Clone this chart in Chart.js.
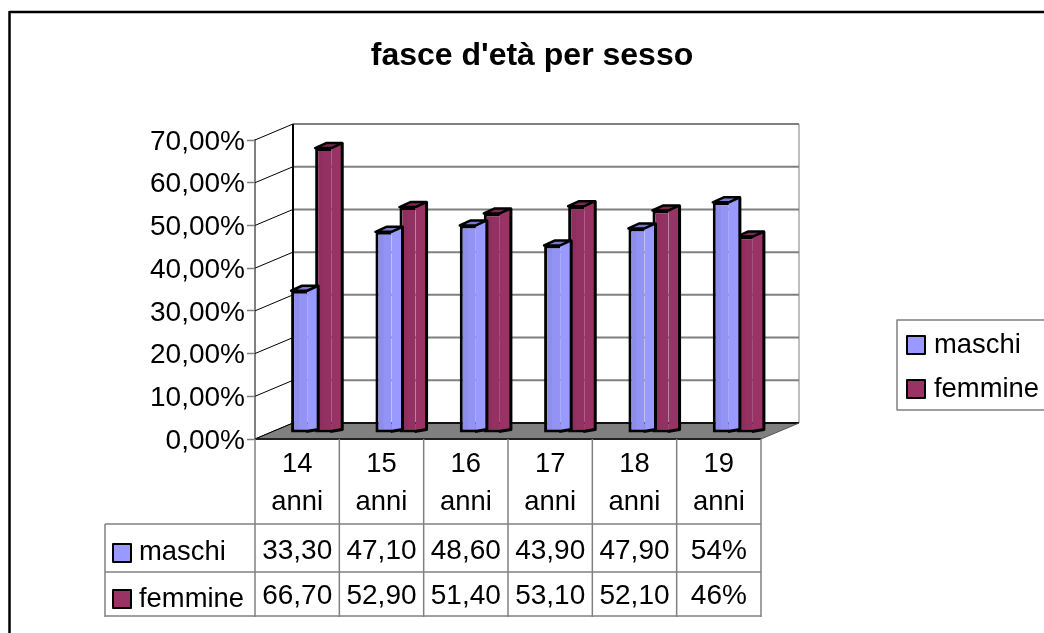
<!DOCTYPE html>
<html>
<head>
<meta charset="utf-8">
<title>fasce d'età per sesso</title>
<style>
	html, body { margin: 0; padding: 0; background: #fff; }
	#wrap { width: 1044px; height: 633px; }
</style>
<script src="https://cdn.jsdelivr.net/npm/chart.js@4/dist/chart.umd.min.js"></script>
</head>
<body>
<div id="wrap"><canvas id="chart" width="1044" height="633"></canvas></div>
<script>
var categories = [ ['14', 'anni'], ['15', 'anni'], ['16', 'anni'], ['17', 'anni'], ['18', 'anni'], ['19', 'anni'] ];
var maschi  = [ 33.3, 47.1, 48.6, 43.9, 47.9, 54 ];
var femmine = [ 66.7, 52.9, 51.4, 53.1, 52.1, 46 ];
var maschiTable  = [ '33,30', '47,10', '48,60', '43,90', '47,90', '54%' ];
var femmineTable = [ '66,70', '52,90', '51,40', '53,10', '52,10', '46%' ];
var title = "fasce d'età per sesso";

var FONT = '"Liberation Sans", Arial, sans-serif';
var NUM_SIZE = 28;
var WORD_SIZE = 27.4;
var GRID = '#808080';

// depth of the fake 3D box, and how far the bars sit inside it
var DEPTH_X = 38, DEPTH_Y = 16;
var BAR_X = 14, BAR_Y = 6;
var SIDE_X = 11, SIDE_Y = 5;

var faces = [
	{ side: '#9999ff', top: '#7a7acc' },
	{ side: '#993366', top: '#7a2952' }
];

function line( ctx, x1, y1, x2, y2, color, width ) {
	ctx.strokeStyle = color;
	ctx.lineWidth = width;
	ctx.beginPath();
	ctx.moveTo( x1, y1 );
	ctx.lineTo( x2, y2 );
	ctx.stroke();
}

function poly( ctx, pts, fill, stroke, width ) {
	ctx.beginPath();
	ctx.moveTo( pts[0][0], pts[0][1] );
	for ( var i = 1; i < pts.length; i++ ) {
		ctx.lineTo( pts[i][0], pts[i][1] );
	}
	ctx.closePath();
	ctx.fillStyle = fill;
	ctx.fill();
	if ( stroke ) {
		ctx.strokeStyle = stroke;
		ctx.lineWidth = width;
		ctx.lineJoin = 'round';
		ctx.stroke();
	}
}

// walls, floor and gridlines of the 3D box, built from the y scale
var boxPlugin = {
	id: 'box',
	beforeDatasetsDraw: function ( chart ) {
		var ctx = chart.ctx, a = chart.chartArea, y = chart.scales.y;
		ctx.save();
		y.ticks.forEach( function ( t ) {
			var py = y.getPixelForValue( t.value );
			if ( t.value > 0 ) {
				line( ctx, a.left + DEPTH_X, py - DEPTH_Y, a.right + DEPTH_X, py - DEPTH_Y, GRID, 2 );
			}
			line( ctx, a.left, py, a.left + DEPTH_X, py - DEPTH_Y, '#000', 1 );
		} );
		line( ctx, a.left + DEPTH_X, a.top - DEPTH_Y, a.left + DEPTH_X, a.bottom - DEPTH_Y, '#000', 2 );
		line( ctx, a.right + DEPTH_X, a.top - DEPTH_Y, a.right + DEPTH_X, a.bottom - DEPTH_Y, GRID, 1 );
		poly( ctx, [
			[ a.left, a.bottom ],
			[ a.left + DEPTH_X, a.bottom - DEPTH_Y ],
			[ a.right + DEPTH_X, a.bottom - DEPTH_Y ],
			[ a.right, a.bottom ]
		], GRID );
		line( ctx, a.left + DEPTH_X, a.bottom - DEPTH_Y, a.right + DEPTH_X, a.bottom - DEPTH_Y, '#111', 2 );
		line( ctx, a.left, a.bottom, a.left + DEPTH_X, a.bottom - DEPTH_Y, '#000', 1 );
		line( ctx, a.right, a.bottom, a.right + DEPTH_X, a.bottom - DEPTH_Y, '#555', 1 );
		line( ctx, a.left, a.bottom, a.right, a.bottom, '#222', 2 );
		ctx.restore();
	},
	// side and top of each bar go first, the library then paints the front on top
	beforeDatasetDraw: function ( chart, args ) {
		var ctx = chart.ctx, f = faces[ args.index ];
		ctx.save();
		ctx.translate( BAR_X, -BAR_Y );
		args.meta.data.forEach( function ( bar ) {
			var p = bar.getProps( [ 'x', 'y', 'base', 'width' ], true );
			var l = p.x - p.width / 2, r = p.x + p.width / 2;
			var farX = r + SIDE_X, foot = p.base - 3;

			poly( ctx, [ [ r, p.y ], [ farX, p.y - SIDE_Y ], [ farX, foot ], [ r, p.base ] ], f.side );
			ctx.strokeStyle = '#000';
			ctx.lineWidth = 3;
			ctx.lineJoin = 'round';
			ctx.beginPath();
			ctx.moveTo( farX, p.y - SIDE_Y );
			ctx.lineTo( farX, foot );
			ctx.lineTo( r - 1, p.base - 1 );
			ctx.stroke();
			poly( ctx, [ [ l, p.y ], [ l + SIDE_X, p.y - SIDE_Y ], [ farX, p.y - SIDE_Y ], [ r, p.y ] ], f.top, '#000', 2.5 );
		} );
	},
	afterDatasetDraw: function ( chart, args ) {
		var ctx = chart.ctx;
		// the darker band down the left half of each front face
		args.meta.data.forEach( function ( bar ) {
			var p = bar.getProps( [ 'x', 'y', 'base', 'width' ], true );
			ctx.fillStyle = 'rgba(0,0,0,0.04)';
			ctx.fillRect( p.x - p.width / 2 + 3, p.y + 3, p.width / 2 - 3, p.base - p.y - 6 );
		} );
		ctx.restore();
	},
	afterDraw: function ( chart ) {
		var ctx = chart.ctx, a = chart.chartArea, x = chart.scales.x;
		var step = ( a.right - a.left ) / categories.length;
		ctx.save();

		// picture frame, runs off the right and bottom of the image
		line( ctx, 9.5, 12, 1044, 12, '#000', 2.5 );
		line( ctx, 9.5, 11, 9.5, 633, '#000', 2.5 );

		// data table grid
		var rowA = 524, rowB = 572, rowC = 616, tableLeft = 105;
		for ( var i = 0; i <= categories.length; i++ ) {
			line( ctx, a.left + step * i, a.bottom, a.left + step * i, rowC + 1, GRID, 1.5 );
		}
		line( ctx, tableLeft, rowA, a.right, rowA, GRID, 1.5 );
		line( ctx, tableLeft, rowB, a.right, rowB, GRID, 1.5 );
		line( ctx, tableLeft, rowC, a.right, rowC, GRID, 1.5 );
		line( ctx, tableLeft, rowA, tableLeft, rowC + 1, GRID, 1.5 );

		ctx.font = NUM_SIZE + 'px ' + FONT;
		ctx.fillStyle = '#000';
		ctx.textBaseline = 'alphabetic';
		ctx.textAlign = 'center';
		maschiTable.forEach( function ( v, i ) {
			ctx.fillText( v, x.getPixelForValue( i ), 559 );
			ctx.fillText( femmineTable[i], x.getPixelForValue( i ), 604 );
		} );

		// row keys and legend share the same swatches
		var sets = chart.data.datasets;
		ctx.font = WORD_SIZE + 'px ' + FONT;
		function key( sx, sy, tx, ty, i ) {
			poly( ctx, [ [ sx, sy ], [ sx + 18, sy ], [ sx + 18, sy + 18 ], [ sx, sy + 18 ] ], faces[i].side, '#000', 2 );
			ctx.textAlign = 'left';
			ctx.fillStyle = '#000';
			ctx.fillText( sets[i].label, tx, ty );
		}
		key( 113, 544, 139, 560, 0 );
		key( 113, 590, 139, 607, 1 );

		ctx.strokeStyle = GRID;
		ctx.lineWidth = 1.5;
		ctx.strokeRect( 897, 320, 160, 90 );
		key( 907, 336, 934, 353, 0 );
		key( 907, 380, 934, 397, 1 );
		ctx.restore();
	}
};

new Chart( document.getElementById( 'chart' ).getContext( '2d' ), {
	type: 'bar',
	data: {
		labels: categories,
		datasets: [
			{ label: 'maschi',  data: maschi,  backgroundColor: '#9393f5', yAxisID: 'y' },
			{ label: 'femmine', data: femmine, backgroundColor: '#933163', yAxisID: 'y' }
		]
	},
	options: {
		responsive: false,
		animation: false,
		layout: { padding: { left: 20, right: 0, top: 0, bottom: 0 } },
		datasets: {
			bar: {
				categoryPercentage: 0.57,
				barPercentage: 0.67,
				borderWidth: { left: 3, top: 3, bottom: 3, right: 0 },
				borderColor: '#000',
				borderSkipped: false,
				clip: false
			}
		},
		plugins: {
			legend: { display: false },
			tooltip: { enabled: false },
			title: {
				display: true,
				text: title,
				color: '#000',
				font: { family: FONT, size: 32, weight: 'bold', lineHeight: 1.2 },
				padding: { top: 37, bottom: 64.6 }
			}
		},
		scales: {
			x: {
				grid: { display: false },
				border: { display: false },
				ticks: {
					color: '#000',
					font: { family: FONT, size: WORD_SIZE, lineHeight: 1.38 },
					padding: -1,
					maxRotation: 0,
					autoSkip: false
				},
				afterFit: function ( scale ) { scale.height = 194; }
			},
			y: {
				min: 0,
				max: 70,
				grid: { drawOnChartArea: false, color: GRID, tickLength: 8, tickWidth: 1.5 },
				border: { display: true, color: GRID, width: 2 },
				ticks: {
					stepSize: 10,
					color: '#000',
					padding: 2,
					labelOffset: 2,
					font: { family: FONT, size: NUM_SIZE },
					callback: function ( v ) { return v.toFixed( 2 ).replace( '.', ',' ) + '%'; }
				},
				afterFit: function ( scale ) { scale.width = 235; }
			},
			// empty axis, only reserves the room the legend sits in
			spare: {
				position: 'right',
				grid: { display: false },
				border: { display: false },
				ticks: { display: false },
				afterFit: function ( scale ) { scale.width = 283; }
			}
		}
	},
	plugins: [ boxPlugin ]
} );
</script>
</body>
</html>
